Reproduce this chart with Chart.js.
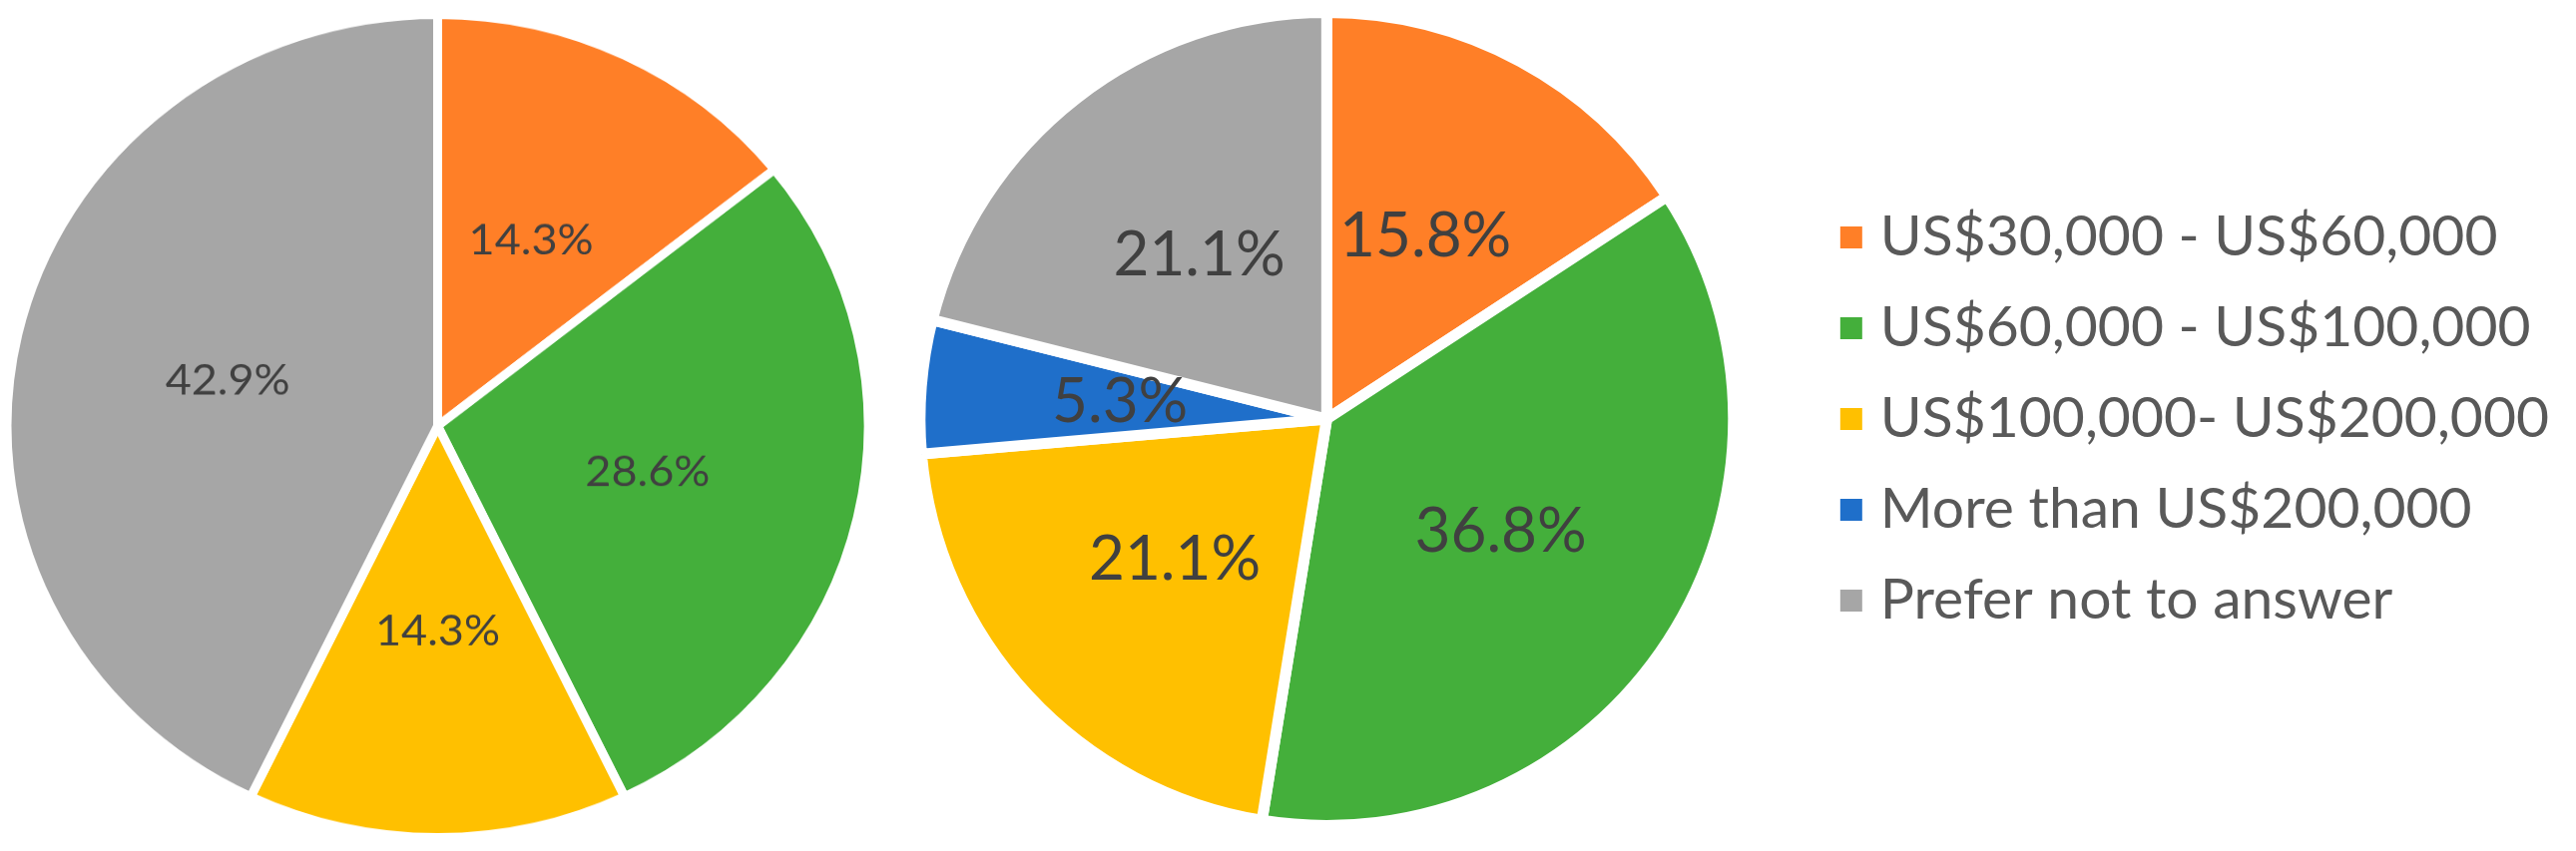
<!DOCTYPE html>
<html><head><meta charset="utf-8">
<script src="https://cdn.jsdelivr.net/npm/chart.js@4"></script>
<style>
html,body{margin:0;padding:0;background:#fff;width:2581px;height:853px;overflow:hidden;position:relative;}
#wrapL{position:absolute;left:0;top:-23.5px;width:877px;height:900px;transform-origin:438.5px 450px;transform:scaleY(0.9555);}
#wrapR{position:absolute;left:571px;top:-30px;width:2000px;height:900px;}
canvas{display:block;}
</style></head><body>
<div id="wrapL"><canvas id="c1" width="877" height="900"></canvas></div>
<div id="wrapR"><canvas id="c2" width="2000" height="900"></canvas></div>
<script>
// ---- data ----
const categories = ["US$30,000 - US$60,000", "US$60,000 - US$100,000", "US$100,000- US$200,000", "More than US$200,000", "Prefer not to answer"];
const sliceColors = ["#FF7F27", "#44AF3B", "#FFC000", "#1F6FCA", "#A6A6A6"];
const leftValues = [14.3, 28.6, 14.3, 0, 42.9];
const rightValues = [15.8, 36.8, 21.1, 5.3, 21.1];

const FONT = "Lato";

function labelPlugin(size, frac) {
  return {
    id: 'sliceLabels',
    afterDatasetsDraw(chart) {
      const ctx = chart.ctx;
      const meta = chart.getDatasetMeta(0);
      const vals = chart.data.datasets[0].data;
      ctx.save();
      ctx.fillStyle = '#404040';
      ctx.font = size + 'px ' + FONT;
      ctx.textAlign = 'center';
      ctx.textBaseline = 'middle';
      meta.data.forEach((arc, i) => {
        const v = vals[i];
        if (!v) return;
        const p = arc.getProps(['x', 'y', 'startAngle', 'endAngle', 'outerRadius'], true);
        const mid = (p.startAngle + p.endAngle) / 2;
        const r = p.outerRadius * frac;
        ctx.fillText(v.toFixed(1) + '%', p.x + Math.cos(mid) * r, p.y + Math.sin(mid) * r);
      });
      ctx.restore();
    }
  };
}

new Chart(document.getElementById('c1'), {
  type: 'pie',
  data: { labels: categories, datasets: [{ data: leftValues, backgroundColor: sliceColors, borderColor: '#ffffff', borderWidth: 9, hoverOffset: 0 }] },
  options: {
    responsive: false, animation: false, devicePixelRatio: 1, events: [],
    radius: 431.5,
    layout: { padding: 0 },
    plugins: { legend: { display: false }, tooltip: { enabled: false } }
  },
  plugins: [labelPlugin(45, 0.5)]
});

const baseGen = Chart.overrides.pie.plugins.legend.labels.generateLabels;
const chartR = new Chart(document.getElementById('c2'), {
  type: 'pie',
  data: { labels: categories, datasets: [{ data: rightValues, backgroundColor: sliceColors, borderColor: '#ffffff', borderWidth: 11, hoverOffset: 0, offset: 0 }] },
  options: {
    responsive: false, animation: false, devicePixelRatio: 1, events: [],
    radius: 407.5,
    layout: { padding: { left: 0, right: 0, top: 0, bottom: 0 } },
    plugins: {
      tooltip: { enabled: false },
      legend: {
        display: true, position: 'right', align: 'center',
        labels: {
          usePointStyle: true, pointStyle: 'rect', boxWidth: 1, boxHeight: 22, padding: 34, color: '#595959',
          font: { family: FONT, size: 57 },
          generateLabels(chart) {
            return baseGen(chart).map(l => Object.assign(l, { lineWidth: 0, strokeStyle: 'rgba(0,0,0,0)', pointStyle: 'rect' }));
          }
        }
      }
    }
  },
  plugins: [labelPlugin(62, 0.51)]
});

// layout: legend square centre and pie centre placed on the page
const LEGEND_SQUARE_X = 1854;
const PIE_CENTER_X = 1329;
for (let k = 0; k < 2; k++) {
  const hb = chartR.legend.legendHitBoxes[0];
  const wrapLeft = LEGEND_SQUARE_X - hb.left;
  document.getElementById('wrapR').style.left = wrapLeft + 'px';
  const cx = PIE_CENTER_X - wrapLeft;
  const padL = Math.max(0, 2 * cx - chartR.chartArea.right);
  chartR.options.layout.padding.left = padL;
  chartR.update('none');
}
</script>
</body></html>
